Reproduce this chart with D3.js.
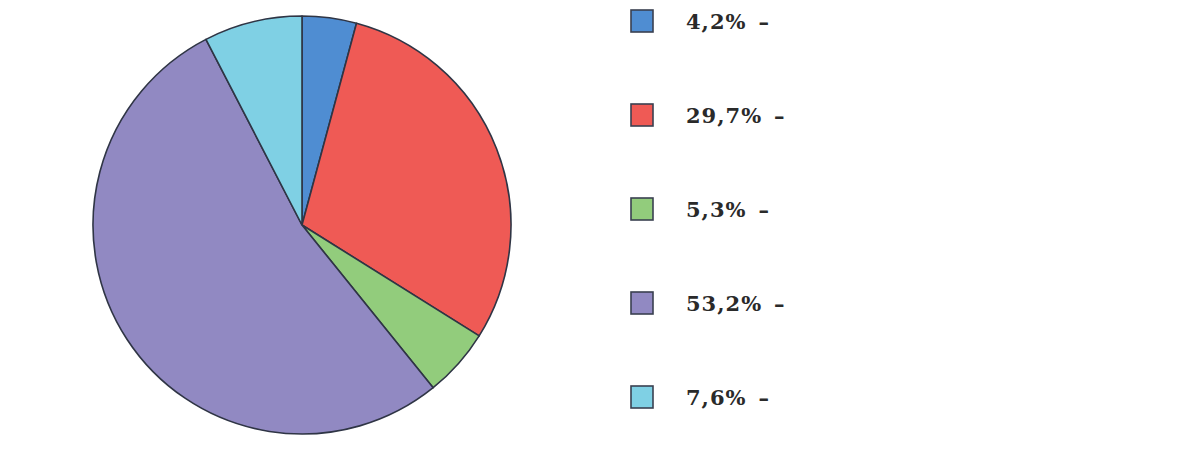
<!DOCTYPE html>
<html>
<head>
<meta charset="utf-8">
<script src="https://cdn.jsdelivr.net/npm/d3@7"></script>
<style>
  html, body { margin: 0; padding: 0; background: #ffffff; }
  svg { display: block; }
</style>
</head>
<body>
<svg id="chart" width="1179" height="456"></svg>
<script>
const categories = ["A", "B", "C", "D", "E"];
const values = [4.2, 29.7, 5.3, 53.2, 7.6];
const labels = ["4,2%", "29,7%", "5,3%", "53,2%", "7,6%"];
const colors = ["#4f8dd2", "#ef5a55", "#92cc7c", "#9189c2", "#7fd0e4"];

const svg = d3.select("#chart");
const data = categories.map((c, i) => ({ cat: c, value: values[i], label: labels[i], color: colors[i] }));

const cx = 302, cy = 225, r = 209;
const pie = d3.pie().sort(null).value(d => d.value);
const arc = d3.arc().innerRadius(0).outerRadius(r);

const g = svg.append("g").attr("transform", `translate(${cx},${cy})`);
g.selectAll("path")
  .data(pie(data))
  .join("path")
  .attr("d", arc)
  .attr("fill", d => d.data.color)
  .attr("stroke", "#2f3545")
  .attr("stroke-width", 1.6)
  .attr("stroke-linejoin", "round");

const y = d3.scalePoint().domain(categories).range([21, 397]);
const leg = svg.append("g");
const rows = leg.selectAll("g")
  .data(data)
  .join("g")
  .attr("transform", d => `translate(0,${y(d.cat)})`);

rows.append("rect")
  .attr("x", 631).attr("y", -11)
  .attr("width", 22).attr("height", 22)
  .attr("fill", d => d.color)
  .attr("stroke", "#3a4050")
  .attr("stroke-width", 1.6);

const t = rows.append("text")
  .attr("x", 686).attr("y", 0)
  .attr("dy", "0.36em")
  .attr("font-family", "'DejaVu Serif', 'Liberation Serif', serif")
  .attr("font-size", 21)
  .attr("font-weight", "bold")
  .attr("fill", "#2a2a2a");
t.append("tspan").attr("letter-spacing", 1).text(d => d.label);
t.append("tspan").attr("dx", 12).text("–");
</script>
</body>
</html>
